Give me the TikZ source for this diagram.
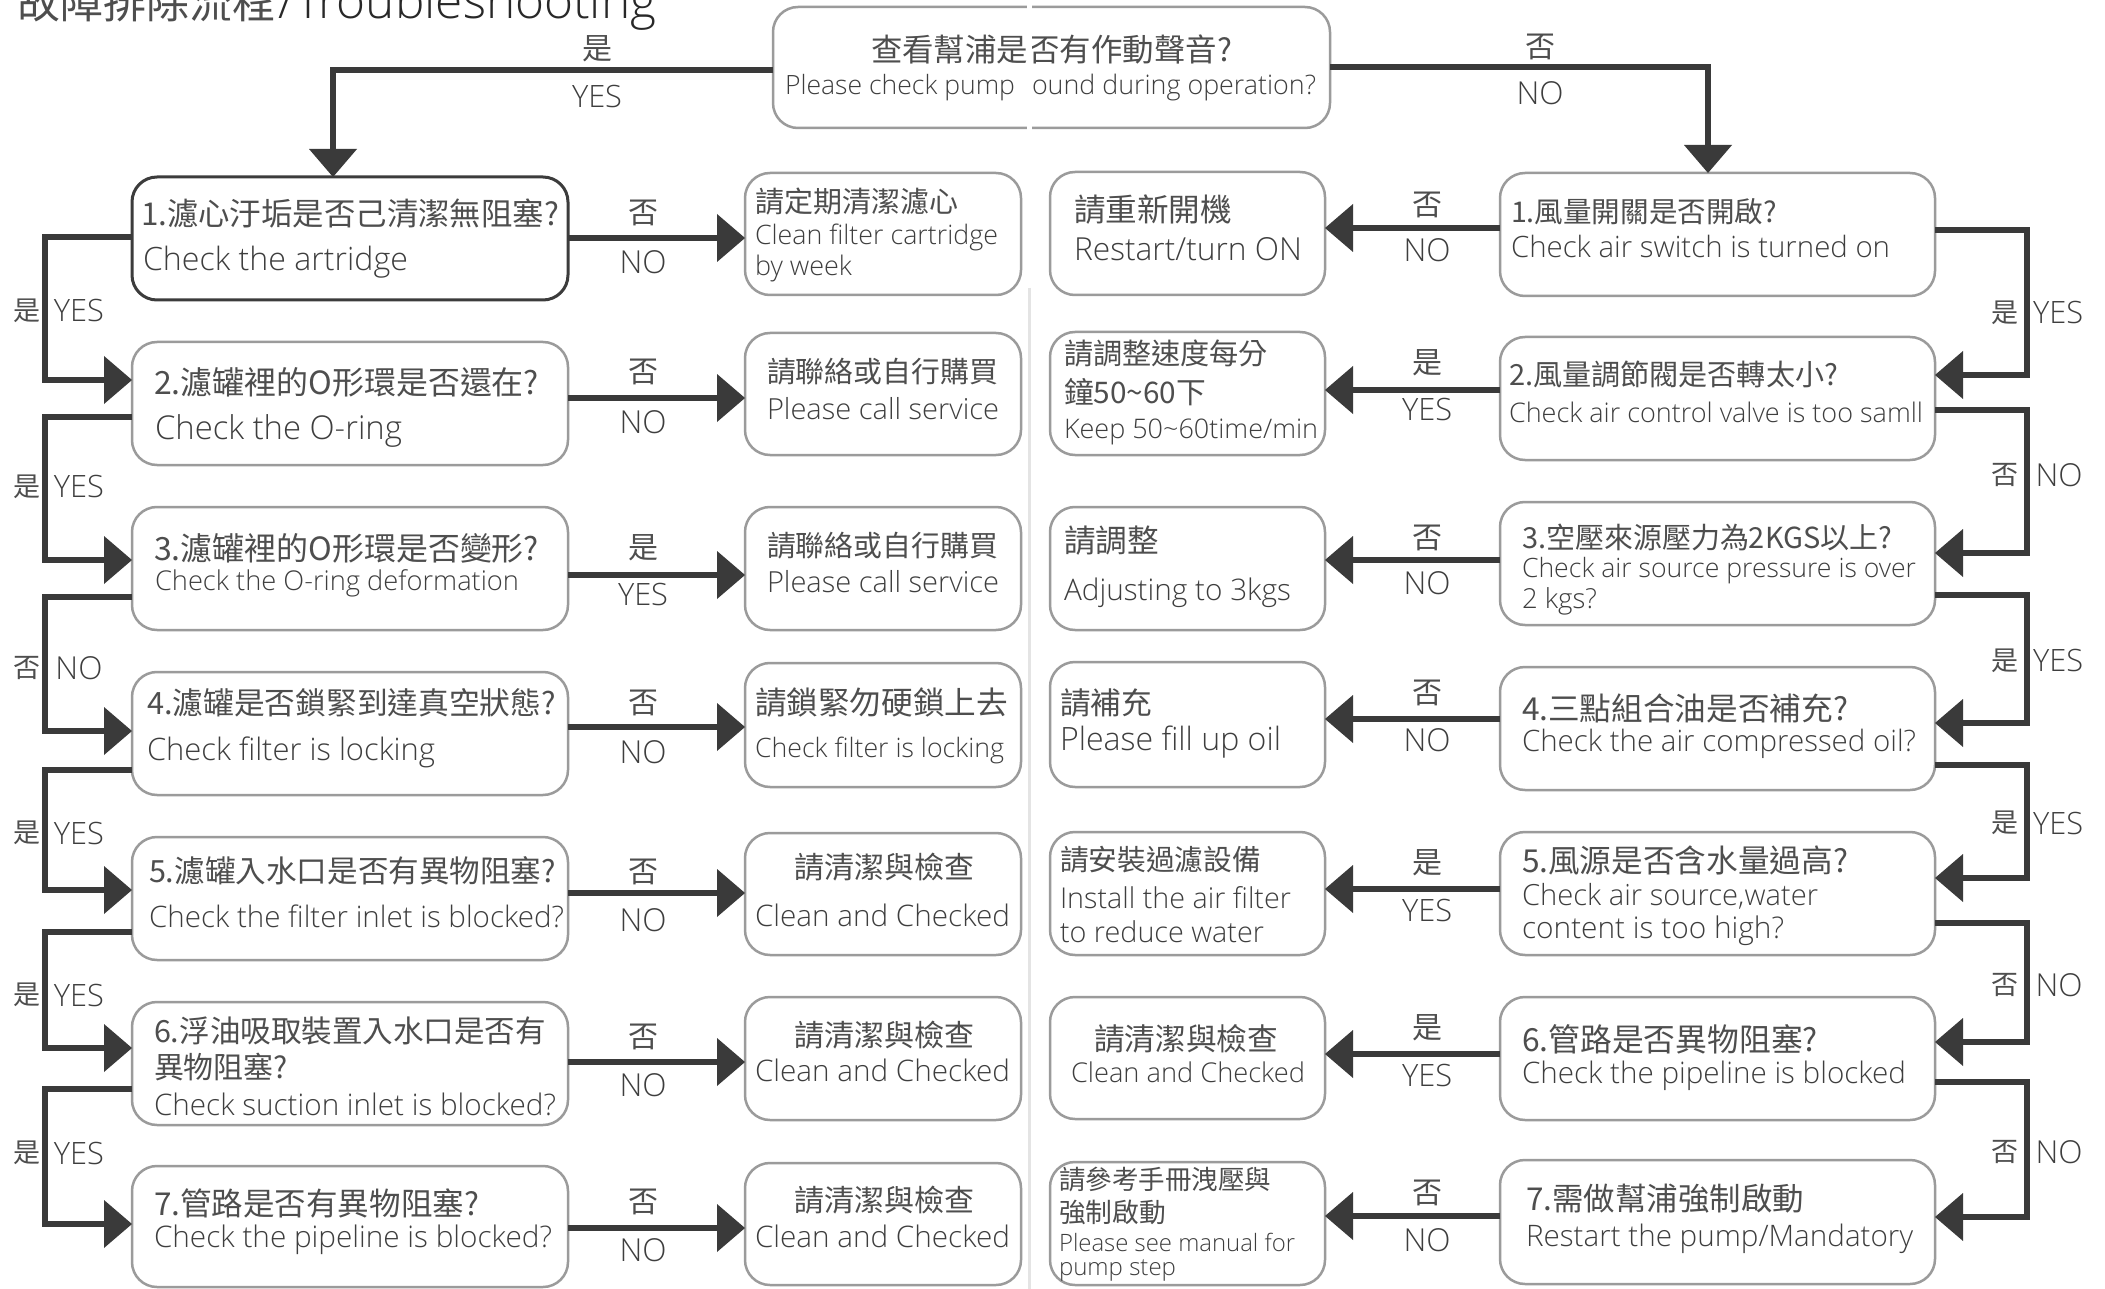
\documentclass[tikz,border=0pt]{standalone}
\usepackage{fontspec}
\usepackage{graphicx}
\usetikzlibrary{arrows.meta}
\newfontfamily\cjkf{Noto Sans CJK TC}
\newfontfamily\latf{Open Sans Light}
\definecolor{txtc}{RGB}{62,62,62}
\definecolor{cjkc}{RGB}{78,78,78}
\definecolor{ttlc}{RGB}{40,40,40}
\definecolor{linec}{RGB}{58,58,58}
\definecolor{boxc}{RGB}{155,155,155}
\definecolor{selc}{RGB}{60,60,60}
\definecolor{seamc}{RGB}{228,228,228}
\newcommand\CJ[2]{\resizebox{#1pt}{!}{\color{cjkc}\cjkf #2}}
\newcommand\LA[2]{\resizebox{#1pt}{!}{\latf #2}}
\begin{document}
\begin{tikzpicture}[x=1pt,y=-1pt,
 bx/.style={draw=boxc, line width=2.5pt, rounded corners=25pt, fill=white, inner sep=0pt, outer sep=0pt, rectangle},
 selbx/.style={bx, draw=selc, line width=3pt},
 tx/.style={inner sep=0pt, outer sep=0pt, anchor=west, text=txtc},
 lb/.style={inner sep=0pt, outer sep=0pt, text=txtc},
 conn/.style={draw=linec, line width=6pt, line join=miter, -{Triangle[length=28pt,width=48pt,line width=0pt]}}]
\fill[white] (0,0) rectangle (2105,1289);
\useasboundingbox (0,0) rectangle (2105,1289);
% seam
\draw[seamc, line width=3pt] (1029,288) -- (1029,1289);
% title
\node[anchor=base west, inner sep=0pt, text=ttlc] (title1) at (17,19) {\CJ{258}{故障排除流程}};
\node[anchor=base west, inner sep=0pt, text=ttlc] (title2) at (278,19) {\LA{378}{/Troubleshooting}};
% top box
\node[bx, minimum width=557pt, minimum height=121pt] (Top) at (1051.5,67.5) {};
\node[tx] (Ta) at (871,49) {\CJ{361}{查看幫浦是否有作動聲音?}};
\node[tx] (Tb) at (785,88) {\LA{230}{Please check pump}};
\node[tx] (Tc) at (1032,88) {\LA{284}{ound during operation?}};
\fill[white] (1027,0) rectangle (1032,135);
% left question boxes
\node[selbx, minimum width=436pt, minimum height=123pt] (L1) at (350,238.5) {};
\node[bx, minimum width=436pt, minimum height=123pt] (L2) at (350,403.5) {};
\node[bx, minimum width=436pt, minimum height=123pt] (L3) at (350,568.5) {};
\node[bx, minimum width=436pt, minimum height=123pt] (L4) at (350,733.5) {};
\node[bx, minimum width=436pt, minimum height=123pt] (L5) at (350,898.5) {};
\node[bx, minimum width=436pt, minimum height=123pt] (L6) at (350,1063.5) {};
\node[bx, minimum width=436pt, minimum height=121pt] (L7) at (350,1226.5) {};
\node[tx] (L1a) at (141,214) {\CJ{418}{1.濾心汙垢是否己清潔無阻塞?}};
\node[tx] (L1b) at (143,262) {\LA{265}{Check the artridge}};
\node[tx] (L2a) at (154,382) {\CJ{385}{2.濾罐裡的O形環是否還在?}};
\node[tx] (L2b) at (155,431) {\LA{247}{Check the O-ring}};
\node[tx] (L3a) at (154,548) {\CJ{385}{3.濾罐裡的O形環是否變形?}};
\node[tx] (L3b) at (155,583) {\LA{364}{Check the O-ring deformation}};
\node[tx] (L4a) at (147,703) {\CJ{409}{4.濾罐是否鎖緊到達真空狀態?}};
\node[tx] (L4b) at (147,752) {\LA{288}{Check filter is locking}};
\node[tx] (L5a) at (149,871) {\CJ{407}{5.濾罐入水口是否有異物阻塞?}};
\node[tx] (L5b) at (149,916) {\LA{415}{Check the filter inlet is blocked?}};
\node[tx] (L6a) at (154,1031) {\CJ{392}{6.浮油吸取裝置入水口是否有}};
\node[tx] (L6b) at (154,1067) {\CJ{134}{異物阻塞?}};
\node[tx] (L6c) at (154,1104) {\LA{402}{Check suction inlet is blocked?}};
\node[tx] (L7a) at (154,1203) {\CJ{325}{7.管路是否有異物阻塞?}};
\node[tx] (L7b) at (154,1240) {\LA{398}{Check the pipeline is blocked?}};
% middle-left action boxes
\node[bx, minimum width=276pt, minimum height=122pt] (M1) at (883,234) {};
\node[bx, minimum width=276pt, minimum height=122pt] (M2) at (883,394) {};
\node[bx, minimum width=276pt, minimum height=123pt] (M3) at (883,568.5) {};
\node[bx, minimum width=276pt, minimum height=124pt] (M4) at (883,725) {};
\node[bx, minimum width=276pt, minimum height=122pt] (M5) at (883,894) {};
\node[bx, minimum width=276pt, minimum height=123pt] (M6) at (883,1058.5) {};
\node[bx, minimum width=276pt, minimum height=122pt] (M7) at (883,1224) {};
\node[tx] (M1a) at (755,202) {\CJ{203}{請定期清潔濾心}};
\node[tx] (M1b) at (755,237) {\LA{243}{Clean filter cartridge}};
\node[tx] (M1c) at (755,268) {\LA{97}{by week}};
\node[tx] (M2a) at (767,372) {\CJ{231}{請聯絡或自行購買}};
\node[tx] (M2b) at (767,409) {\LA{232}{Please call service}};
\node[tx] (M3a) at (767,546) {\CJ{231}{請聯絡或自行購買}};
\node[tx] (M3b) at (767,582) {\LA{232}{Please call service}};
\node[tx] (M4a) at (755,703) {\CJ{253}{請鎖緊勿硬鎖上去}};
\node[tx] (M4b) at (755,750) {\LA{249}{Check filter is locking}};
\node[tx] (M5a) at (794,867) {\CJ{180}{請清潔與檢查}};
\node[tx] (M5b) at (755,915) {\LA{255}{Clean and Checked}};
\node[tx] (M6a) at (794,1035) {\CJ{180}{請清潔與檢查}};
\node[tx] (M6b) at (755,1070) {\LA{255}{Clean and Checked}};
\node[tx] (M7a) at (794,1200) {\CJ{180}{請清潔與檢查}};
\node[tx] (M7b) at (755,1236) {\LA{255}{Clean and Checked}};
% middle-right action boxes
\node[bx, minimum width=275pt, minimum height=123pt] (RM1) at (1187.5,233.5) {};
\node[bx, minimum width=275pt, minimum height=123pt] (RM2) at (1187.5,393.5) {};
\node[bx, minimum width=275pt, minimum height=123pt] (RM3) at (1187.5,568.5) {};
\node[bx, minimum width=275pt, minimum height=125pt] (RM4) at (1187.5,724.5) {};
\node[bx, minimum width=275pt, minimum height=123pt] (RM5) at (1187.5,893.5) {};
\node[bx, minimum width=275pt, minimum height=122pt] (RM6) at (1187.5,1058) {};
\node[bx, minimum width=275pt, minimum height=123pt] (RM7) at (1187.5,1223.5) {};
\node[tx] (RM1a) at (1074,210) {\CJ{158}{請重新開機}};
\node[tx] (RM1b) at (1074,249) {\LA{228}{Restart/turn ON}};
\node[tx] (RM2a) at (1064,354) {\CJ{204}{請調整速度每分}};
\node[tx] (RM2b) at (1064,392) {\CJ{142}{鐘50{\char"007E}60下}};
\node[tx] (RM2c) at (1064,432) {\LA{254}{Keep 50{\char"007E}60time/min}};
\node[tx] (RM3a) at (1064,541) {\CJ{95}{請調整}};
\node[tx] (RM3b) at (1064,593) {\LA{227}{Adjusting to 3kgs}};
\node[tx] (RM4a) at (1060,703) {\CJ{92}{請補充}};
\node[tx] (RM4b) at (1060,742) {\LA{221}{Please fill up oil}};
\node[tx] (RM5a) at (1060,860) {\CJ{201}{請安裝過濾設備}};
\node[tx] (RM5b) at (1060,898) {\LA{231}{Install the air filter}};
\node[tx] (RM5c) at (1060,932) {\LA{204}{to reduce water}};
\node[tx] (RM6a) at (1094,1039) {\CJ{184}{請清潔與檢查}};
\node[tx] (RM6b) at (1071,1072) {\LA{234}{Clean and Checked}};
\node[tx] (RM7a) at (1059,1180) {\CJ{212}{請參考手冊洩壓與}};
\node[tx] (RM7b) at (1059,1212) {\CJ{107}{強制啟動}};
\node[tx] (RM7c) at (1059,1242) {\LA{236}{Please see manual for}};
\node[tx] (RM7d) at (1059,1270) {\LA{117}{pump step}};
% right question boxes
\node[bx, minimum width=435pt, minimum height=123pt] (R1) at (1717.5,234.5) {};
\node[bx, minimum width=435pt, minimum height=123pt] (R2) at (1717.5,398.5) {};
\node[bx, minimum width=435pt, minimum height=123pt] (R3) at (1717.5,563.5) {};
\node[bx, minimum width=435pt, minimum height=123pt] (R4) at (1717.5,728.5) {};
\node[bx, minimum width=435pt, minimum height=123pt] (R5) at (1717.5,893.5) {};
\node[bx, minimum width=435pt, minimum height=123pt] (R6) at (1717.5,1058.5) {};
\node[bx, minimum width=435pt, minimum height=124pt] (R7) at (1717.5,1222) {};
\node[tx] (R1a) at (1511,212) {\CJ{266}{1.風量開關是否開啟?}};
\node[tx] (R1b) at (1511,246) {\LA{379}{Check air switch is turned on}};
\node[tx] (R2a) at (1509,374) {\CJ{329}{2.風量調節閥是否轉太小?}};
\node[tx] (R2b) at (1509,412) {\LA{414}{Check air control valve is too samll}};
\node[tx] (R3a) at (1522,537) {\CJ{370}{3.空壓來源壓力為2KGS以上?}};
\node[tx] (R3b) at (1522,571) {\LA{394}{Check air source pressure is over}};
\node[tx] (R3c) at (1522,601) {\LA{75}{2 kgs?}};
\node[tx] (R4a) at (1522,708) {\CJ{326}{4.三點組合油是否補充?}};
\node[tx] (R4b) at (1522,744) {\LA{394}{Check the air compressed oil?}};
\node[tx] (R5a) at (1522,860) {\CJ{326}{5.風源是否含水量過高?}};
\node[tx] (R5b) at (1522,896) {\LA{296}{Check air source,water}};
\node[tx] (R5c) at (1522,931) {\LA{262}{content is too high?}};
\node[tx] (R6a) at (1522,1039) {\CJ{296}{6.管路是否異物阻塞?}};
\node[tx] (R6b) at (1522,1076) {\LA{384}{Check the pipeline is blocked}};
\node[tx] (R7a) at (1526,1199) {\CJ{278}{7.需做幫浦強制啟動}};
\node[tx] (R7b) at (1526,1239) {\LA{387}{Restart the pump/Mandatory}};
% top connectors
\draw[conn] ([yshift=-2.5pt]Top.west) -| ([xshift=-17pt]L1.north);
\draw[conn] (Top.east) -| ([xshift=-9.5pt]R1.north);
\node[lb] (tyA) at (597,49) {\CJ{30}{是}};
\node[lb] (tyB) at (597,97) {\LA{50}{YES}};
\node[lb] (tnA) at (1540,47) {\CJ{30}{否}};
\node[lb] (tnB) at (1540,93) {\LA{47}{NO}};
% left horizontal connectors
\draw[conn] ([yshift=0.5pt]L1.east) -- ([yshift=-4pt]M1.west);
\draw[conn] ([yshift=5.5pt]L2.east) -- ([yshift=-4pt]M2.west);
\draw[conn] ([yshift=-6.5pt]L3.east) -- ([yshift=-6.5pt]M3.west);
\draw[conn] ([yshift=6.5pt]L4.east) -- ([yshift=-2pt]M4.west);
\draw[conn] ([yshift=5.5pt]L5.east) -- ([yshift=1pt]M5.west);
\draw[conn] ([yshift=1.5pt]L6.east) -- ([yshift=-3.5pt]M6.west);
\draw[conn] ([yshift=-1.5pt]L7.east) -- ([yshift=-4pt]M7.west);
\node[lb] (h1a) at (643,213) {\CJ{30}{否}};  \node[lb] (h1b) at (643,262) {\LA{47}{NO}};
\node[lb] (h2a) at (643,372) {\CJ{30}{否}};  \node[lb] (h2b) at (643,422) {\LA{47}{NO}};
\node[lb] (h3a) at (643,548) {\CJ{30}{是}};  \node[lb] (h3b) at (643,595) {\LA{50}{YES}};
\node[lb] (h4a) at (643,703) {\CJ{30}{否}};  \node[lb] (h4b) at (643,752) {\LA{47}{NO}};
\node[lb] (h5a) at (643,872) {\CJ{30}{否}};  \node[lb] (h5b) at (643,920) {\LA{47}{NO}};
\node[lb] (h6a) at (643,1037) {\CJ{30}{否}}; \node[lb] (h6b) at (643,1085) {\LA{47}{NO}};
\node[lb] (h7a) at (643,1202) {\CJ{30}{否}}; \node[lb] (h7b) at (643,1250) {\LA{47}{NO}};
% right horizontal connectors
\draw[conn] ([yshift=6.5pt]R1.west) -- ([yshift=5.5pt]RM1.east);
\draw[conn] ([yshift=8.5pt]R2.west) -- ([yshift=3.5pt]RM2.east);
\draw[conn] ([yshift=3.5pt]R3.west) -- ([yshift=8.5pt]RM3.east);
\draw[conn] ([yshift=9.5pt]R4.west) -- ([yshift=5.5pt]RM4.east);
\draw[conn] ([yshift=4.5pt]R5.west) -- ([yshift=4.5pt]RM5.east);
\draw[conn] ([yshift=4.5pt]R6.west) -- ([yshift=4pt]RM6.east);
\draw[conn] ([yshift=6pt]R7.west) -- ([yshift=7.5pt]RM7.east);
\node[lb] (k1a) at (1427,205) {\CJ{30}{否}};  \node[lb] (k1b) at (1427,250) {\LA{47}{NO}};
\node[lb] (k2a) at (1427,363) {\CJ{30}{是}};  \node[lb] (k2b) at (1427,410) {\LA{50}{YES}};
\node[lb] (k3a) at (1427,538) {\CJ{30}{否}};  \node[lb] (k3b) at (1427,583) {\LA{47}{NO}};
\node[lb] (k4a) at (1427,693) {\CJ{30}{否}};  \node[lb] (k4b) at (1427,740) {\LA{47}{NO}};
\node[lb] (k5a) at (1427,863) {\CJ{30}{是}};  \node[lb] (k5b) at (1427,910) {\LA{50}{YES}};
\node[lb] (k6a) at (1427,1028) {\CJ{30}{是}}; \node[lb] (k6b) at (1427,1075) {\LA{50}{YES}};
\node[lb] (k7a) at (1427,1193) {\CJ{30}{否}}; \node[lb] (k7b) at (1427,1240) {\LA{47}{NO}};
% left vertical chain
\draw[conn] ([yshift=1.5pt]L1.west) -- ++(-87,0) |- ([yshift=23.5pt]L2.west);
\draw[conn] ([yshift=-13.5pt]L2.west) -- ++(-87,0) |- ([yshift=8.5pt]L3.west);
\draw[conn] ([yshift=-28.5pt]L3.west) -- ++(-87,0) |- ([yshift=2.5pt]L4.west);
\draw[conn] ([yshift=-36.5pt]L4.west) -- ++(-87,0) |- ([yshift=8.5pt]L5.west);
\draw[conn] ([yshift=-33.5pt]L5.west) -- ++(-87,0) |- ([yshift=15.5pt]L6.west);
\draw[conn] ([yshift=-25.5pt]L6.west) -- ++(-87,0) |- ([yshift=2.5pt]L7.west);
\node[lb] (v1a) at (26.5,311) {\CJ{27}{是}};  \node[lb] (v1b) at (79,311) {\LA{50}{YES}};
\node[lb] (v2a) at (26.5,487) {\CJ{27}{是}};  \node[lb] (v2b) at (79,487) {\LA{50}{YES}};
\node[lb] (v3a) at (26.5,668) {\CJ{27}{否}};  \node[lb] (v3b) at (79,668) {\LA{47}{NO}};
\node[lb] (v4a) at (26.5,833) {\CJ{27}{是}};  \node[lb] (v4b) at (79,833) {\LA{50}{YES}};
\node[lb] (v5a) at (26.5,995) {\CJ{27}{是}};  \node[lb] (v5b) at (79,995) {\LA{50}{YES}};
\node[lb] (v6a) at (26.5,1153) {\CJ{27}{是}}; \node[lb] (v6b) at (79,1153) {\LA{50}{YES}};
% right vertical chain
\draw[conn] ([yshift=4.5pt]R1.east) -- ++(92,0) |- ([yshift=23.5pt]R2.east);
\draw[conn] ([yshift=-11.5pt]R2.east) -- ++(92,0) |- ([yshift=10.5pt]R3.east);
\draw[conn] ([yshift=-31.5pt]R3.east) -- ++(92,0) |- ([yshift=5.5pt]R4.east);
\draw[conn] ([yshift=-36.5pt]R4.east) -- ++(92,0) |- ([yshift=15.5pt]R5.east);
\draw[conn] ([yshift=-29.5pt]R5.east) -- ++(92,0) |- ([yshift=16.5pt]R6.east);
\draw[conn] ([yshift=-23.5pt]R6.east) -- ++(92,0) |- ([yshift=5pt]R7.east);
\node[lb] (w1a) at (2004.5,313) {\CJ{27}{是}};  \node[lb] (w1b) at (2058,313) {\LA{50}{YES}};
\node[lb] (w2a) at (2004.5,475) {\CJ{27}{否}};  \node[lb] (w2b) at (2059,475) {\LA{47}{NO}};
\node[lb] (w3a) at (2004.5,661) {\CJ{27}{是}};  \node[lb] (w3b) at (2058,661) {\LA{50}{YES}};
\node[lb] (w4a) at (2004.5,823) {\CJ{27}{是}};  \node[lb] (w4b) at (2058,823) {\LA{50}{YES}};
\node[lb] (w5a) at (2004.5,985) {\CJ{27}{否}};  \node[lb] (w5b) at (2059,985) {\LA{47}{NO}};
\node[lb] (w6a) at (2004.5,1152) {\CJ{27}{否}}; \node[lb] (w6b) at (2059,1152) {\LA{47}{NO}};
\end{tikzpicture}
\end{document}
